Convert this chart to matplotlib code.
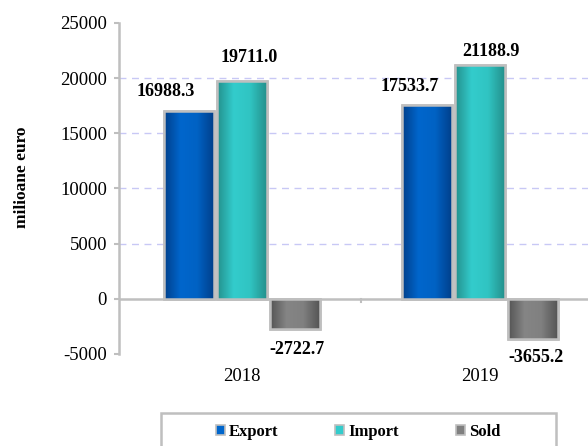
import matplotlib
matplotlib.use("Agg")
import matplotlib.pyplot as plt
import numpy as np
from matplotlib.colors import LinearSegmentedColormap
from matplotlib.patches import Rectangle

years = ["2018", "2019"]
series = ["Export", "Import", "Sold"]
export_vals = [16988.3, 17533.7]
import_vals = [19711.0, 21188.9]
sold_vals = [-2722.7, -3655.2]
labels_export = ["16988.3", "17533.7"]
labels_import = ["19711.0", "21188.9"]
labels_sold = ["-2722.7", "-3655.2"]
yticks = [-5000, 0, 5000, 10000, 15000, 20000, 25000]

plt.rcParams['font.family'] = ['Liberation Serif', 'DejaVu Serif']

fig = plt.figure(figsize=(5.88, 4.46), dpi=100)
ax = fig.add_axes([119/588, 1-354/446, 1-119/588, (354-23)/446])

grad = {
    "Export": ["#00408C", "#0066CC", "#0062C4", "#00408C"],
    "Import": ["#24918D", "#33CCCC", "#30C4C2", "#24918D"],
    "Sold": ["#555555", "#858585", "#808080", "#555555"],
}
legend_col = {"Export": "#0066CC", "Import": "#33CCCC", "Sold": "#808080"}
offsets = [-0.222, 0.0, 0.222]
width = 0.21
x = np.arange(len(years))
all_vals = [export_vals, import_vals, sold_vals]
all_labels = [labels_export, labels_import, labels_sold]

for s, vals, off in zip(series, all_vals, offsets):
    cmap = LinearSegmentedColormap.from_list(s, grad[s])
    bars = ax.bar(x + off, vals, width, color=legend_col[s], edgecolor="#BFBFBF",
                  linewidth=1.8, zorder=3, label=s)
    for b in bars:
        x0, y0 = b.get_x(), b.get_y()
        w, h = b.get_width(), b.get_height()
        g = np.linspace(0, 1, 64).reshape(1, -1)
        im = ax.imshow(g, cmap=cmap, extent=[x0, x0 + w, min(y0, y0 + h), max(y0, y0 + h)],
                       aspect="auto", zorder=3.5, interpolation="bilinear")
        im.set_clip_path(b)
        rect = Rectangle((x0, y0), w, h, fill=False, edgecolor="#BFBFBF", linewidth=1.8, zorder=4)
        ax.add_patch(rect)

# value labels (pixel offsets of the label relative to bar end)
pix_off = {"Export": [(-23, 15), (-17, 14)],
           "Import": [(7, 19), (11, 9)],
           "Sold": [(2, -25), (3, -23)]}
for s, vals, labs, off in zip(series, all_vals, all_labels, offsets):
    for i, (v, lab) in enumerate(zip(vals, labs)):
        dx, dy = pix_off[s][i]
        ax.annotate(lab, (x[i] + off, v), xytext=(dx, dy), textcoords="offset pixels",
                    ha="center", va="baseline", fontsize=13, fontweight="bold", zorder=6)

ax.set_xlim(-0.517, 1.454)
ax.set_ylim(-5000, 25000)
ax.set_yticks(yticks)
ax.set_yticklabels([str(t) for t in yticks], fontsize=13.5)
ax.set_xticks(x)
ax.set_xticklabels(years, fontsize=13.5)
ax.tick_params(axis="x", length=0, pad=10)
ax.tick_params(axis="y", length=3.6, color="#BFBFBF", width=1.5, pad=5)

for sp in ["top", "right", "bottom"]:
    ax.spines[sp].set_visible(False)
ax.spines["left"].set_color("#BFBFBF")
ax.spines["left"].set_linewidth(1.8)

ax.yaxis.grid(True, linestyle=(0, (5, 4)), color="#C8C8F5", linewidth=1.0, zorder=0)
gls = ax.yaxis.get_gridlines()
for t, gl in zip(yticks, gls):
    if t in (-5000, 0, 25000):
        gl.set_visible(False)
ax.set_axisbelow(True)

ax.axhline(0, color="#BFBFBF", linewidth=1.8, zorder=2)
ax.plot([0.5, 0.5], [0, -300], color="#BFBFBF", linewidth=1.5, zorder=2)

ax.set_ylabel("milioane euro", fontsize=12.5, fontweight="bold")
ax.yaxis.set_label_coords(-0.189, 0.533)

# legend frame + entries
frame = Rectangle((161/588, -0.05), (556-161)/588, 1-413/446 + 0.05, transform=fig.transFigure,
                  facecolor="white", edgecolor="#BFBFBF", linewidth=1.8, zorder=0)
fig.patches.append(frame)
handles = [Rectangle((0, 0), 1, 1, facecolor=legend_col[s], edgecolor="#BFBFBF", linewidth=1.2) for s in series]
leg = fig.legend(handles, series, loc="center", bbox_to_anchor=(358/588, 1-432/446),
                 ncol=3, frameon=False, prop={"weight": "bold", "size": 12},
                 handlelength=0.55, handleheight=0.55, handletextpad=0.25, columnspacing=3.4,
                 borderpad=0)

fig.savefig("out.png", dpi=100)
